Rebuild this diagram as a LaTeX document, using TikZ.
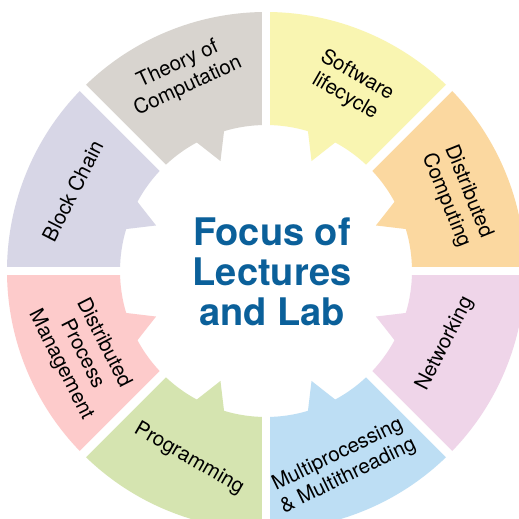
\documentclass[tikz,border=0pt]{standalone}
\usepackage{fontspec}
\setmainfont{TeX Gyre Heros}
\definecolor{cTheory}{HTML}{D8D4CF}
\definecolor{cSoft}{HTML}{F9F5B1}
\definecolor{cDC}{HTML}{FBD8A0}
\definecolor{cNet}{HTML}{EFD5E9}
\definecolor{cMulti}{HTML}{BDDEF4}
\definecolor{cProg}{HTML}{D5E4B0}
\definecolor{cDPM}{HTML}{FDCBCB}
\definecolor{cBlock}{HTML}{D7D6E6}
\definecolor{cTitle}{HTML}{0B609A}
\tikzset{
  lbl/.style={align=center,font=\fontsize{20.5}{24}\selectfont,text=black,inner sep=0pt},
  ttl/.style={align=center,font=\fontsize{38}{40}\selectfont\bfseries,text=cTitle,inner sep=0pt},
  gap/.style={white,line width=8.5pt}
}
\newcommand{\segm}[2]{%
  \fill[#2] (#1:259pt) arc[start angle=#1,end angle=#1+45,radius=259pt]
    -- (#1+45:146pt) arc[start angle=#1+45,end angle=#1+28.3,radius=146pt]
    -- (#1+22.5:119pt) -- (#1+16.7:146pt)
    arc[start angle=#1+16.7,end angle=#1,radius=146pt] -- cycle;}
\begin{document}
\begin{tikzpicture}[x=1pt,y=1pt]
\fill[white] (-266,-248) rectangle (253,271);
\useasboundingbox (-266,-248) rectangle (253,271);
\begin{scope}
\clip (-266,-248) rectangle (253,271);
\segm{0}{cDC}
\segm{45}{cSoft}
\segm{90}{cTheory}
\segm{135}{cBlock}
\segm{180}{cDPM}
\segm{225}{cProg}
\segm{270}{cMulti}
\segm{315}{cNet}
\draw[gap] (0:280pt) -- (180:280pt);
\draw[gap] (90:280pt) -- (270:280pt);
\draw[gap] (45:280pt) -- (225:280pt);
\draw[gap] (135:280pt) -- (315:280pt);
\end{scope}
\node[lbl,rotate=25] (theory) at (-83,195.5) {Theory of\\Computation};
\node[lbl,rotate=-30] (soft) at (85,185) {Software\\lifecycle};
\node[lbl,rotate=-68] (dc) at (191,75) {Distributed\\Computing};
\node[lbl,rotate=63] (net) at (179,-73) {Networking};
\node[lbl,rotate=26] (multi) at (77,-194.5) {Multiprocessing\\\& Multithreading};
\node[lbl,rotate=-30] (prog) at (-77,-187.5) {Programming};
\node[lbl,rotate=-63] (dpm) at (-184,-83) {Distributed\\Process\\Management};
\node[lbl,rotate=63] (block) at (-193.5,80) {Block Chain};
\node[ttl] (title) at (6,-1) {Focus of\\Lectures\\and Lab};
\end{tikzpicture}
\end{document}
